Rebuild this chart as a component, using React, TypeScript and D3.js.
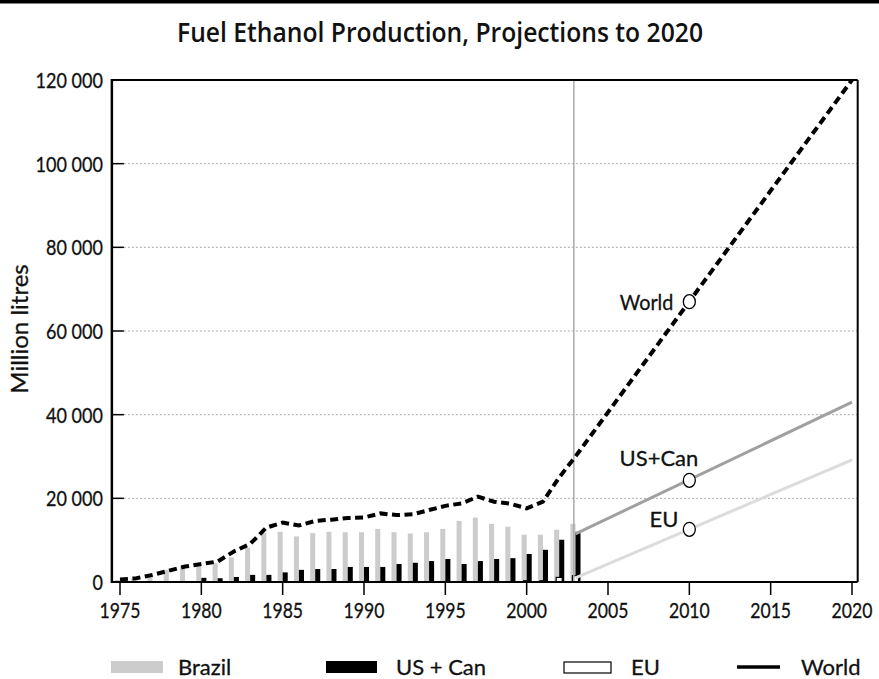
import React from "react";
import * as d3 from "d3";

const years = d3.range(1975, 2004);
const brazil = [500, 900, 1800, 2900, 3700, 4200, 4500, 5900, 8200, 11700, 12000, 10900, 11700, 12000, 11900, 11900, 12700, 11900, 11600, 11900, 12700, 14600, 15400, 13900, 13200, 11300, 11300, 12500, 13900];
const usCan = [100, 100, 100, 100, 200, 1000, 900, 1200, 1700, 1700, 2300, 2900, 3100, 3100, 3600, 3600, 3600, 4300, 4600, 5000, 5500, 4300, 5000, 5500, 5700, 6700, 7700, 10100, 12000];
const eu = [0, 0, 0, 0, 0, 0, 0, 0, 0, 0, 0, 0, 0, 0, 0, 0, 0, 0, 0, 0, 0, 0, 0, 0, 0, 300, 300, 1100, 1500];
const world = [600, 900, 1700, 2700, 3700, 4300, 4900, 7300, 9100, 13000, 14200, 13500, 14600, 14900, 15300, 15400, 16400, 16000, 16200, 17200, 18200, 18800, 20400, 19200, 18700, 17600, 19200, 25000, 30000];

const projYears = [2003, 2020];
const worldProj = [30000, 120000];
const usProj = [11500, 43000];
const euProj = [1000, 29200];

const markerYear = 2010;
const markerLabels = ["World", "US+Can", "EU"];
const markerValues = [67000, 24300, 12600];

const xTicks = d3.range(1975, 2021, 5);
const yTicks = d3.range(0, 120001, 20000);
const legendLabels = ["Brazil", "US + Can", "EU", "World"];

const FONT = "Lato, 'Open Sans', sans-serif";

function T({ x, y, sx = 1, anchor = "start", size = 22, children, rotate = 0 }: any) {
  return (
    <text
      transform={`translate(${x},${y}) rotate(${rotate}) scale(${sx},1)`}
      textAnchor={anchor}
      fontSize={size}
      fill="#111"
      stroke="#111"
      strokeWidth={0.3}
    >
      {children}
    </text>
  );
}

export default function App() {
  const W = 879, H = 679;
  const x = d3.scaleLinear().domain([1975, 2020]).range([120, 852]);
  const y = d3.scaleLinear().domain([0, 120000]).range([582, 80]);
  const left = x(1974.5), right = x(2020.35), top = y(120000), bottom = y(0);
  const bw = (x(1976) - x(1975)) * 0.31;
  const fmt = (v: number) => d3.format(",")(v).replace(/,/g, " ");

  const hist = years.map((yr, i) => ({ yr, v: world[i] }));
  const worldLine = d3.line<{ yr: number; v: number }>().x(d => x(d.yr)).y(d => y(d.v));
  const worldAll = hist.concat([{ yr: projYears[1], v: worldProj[1] }]);
  const projLine = (vals: number[]) => d3.line<number>().x((_, i) => x(projYears[i])).y(d => y(d))(vals) || "";

  const labelEndDx = [-16, 9, -11];
  const labelDy = [8, -14, -2];
  const labelSx = [0.9, 1, 1];

  return (
    <svg width={W} height={H} style={{ display: "block", position: "absolute", left: 0, top: 0 }} fontFamily={FONT}>
      <rect x={0} y={0} width={W} height={H} fill="#fff" />
      <rect x={0} y={0} width={W} height={3.5} fill="#000" />
      <text x={440} y={42} textAnchor="middle" fontSize={27} fontWeight={600} fontFamily="'Open Sans', 'Noto Sans', sans-serif" textLength={526} lengthAdjust="spacingAndGlyphs" fill="#111">
        Fuel Ethanol Production, Projections to 2020
      </text>

      {/* gridlines */}
      {yTicks.filter(t => t > 0 && t < 120000).map(t => (
        <line key={"g" + t} x1={left + 12} x2={right} y1={y(t)} y2={y(t)} stroke="#aaa" strokeWidth={1} strokeDasharray="2,2" />
      ))}

      {/* bars */}
      {years.map((yr, i) => (
        <g key={"b" + yr}>
          <rect x={x(yr) - bw} y={y(brazil[i])} width={bw} height={bottom - y(brazil[i])} fill="#cccccc" />
          <rect x={x(yr)} y={y(usCan[i])} width={bw} height={bottom - y(usCan[i])} fill="#000" />
          {eu[i] > 0 && (
            <rect x={x(yr) - bw / 2 - 0.5} y={y(eu[i])} width={bw + 1} height={bottom - y(eu[i])} fill="#fff" stroke="#000" strokeWidth={1.2} />
          )}
        </g>
      ))}

      {/* vertical line at 2003 */}
      <line x1={x(2002.9)} x2={x(2002.9)} y1={top} y2={bottom} stroke="#aaa" strokeWidth={1.5} />

      {/* projections */}
      <path d={projLine(euProj)} fill="none" stroke="#dcdcdc" strokeWidth={3} />
      <path d={projLine(usProj)} fill="none" stroke="#a0a0a0" strokeWidth={3} />
      <path d={worldLine(worldAll) || ""} fill="none" stroke="#000" strokeWidth={4} strokeDasharray="8,4.5" />

      {/* markers */}
      {markerValues.map((v, i) => (
        <g key={"m" + i}>
          <ellipse cx={x(markerYear)} cy={y(v)} rx={6} ry={7} fill="#fff" stroke="#000" strokeWidth={1.3} />
          <T x={x(markerYear) + labelEndDx[i]} y={y(v) + labelDy[i]} anchor="end" sx={labelSx[i]}>
            {markerLabels[i]}
          </T>
        </g>
      ))}

      {/* frame */}
      <line x1={left} x2={right} y1={top} y2={top} stroke="#000" strokeWidth={2} />
      <line x1={right} x2={right} y1={top} y2={bottom} stroke="#000" strokeWidth={2} />
      <line x1={left} x2={right} y1={bottom} y2={bottom} stroke="#000" strokeWidth={2} />
      <line x1={left} x2={left} y1={top - 1} y2={bottom + 1} stroke="#000" strokeWidth={2.5} />

      {/* y ticks */}
      {yTicks.map(t => (
        <g key={"y" + t}>
          {t > 0 && t < 120000 && <line x1={left} x2={left + 12} y1={y(t)} y2={y(t)} stroke="#000" strokeWidth={1.5} />}
          <T x={103} y={y(t) + 8} anchor="end" sx={0.82}>{fmt(t)}</T>
        </g>
      ))}

      {/* x ticks */}
      {xTicks.map(t => (
        <g key={"x" + t}>
          <line x1={x(t)} x2={x(t)} y1={bottom} y2={bottom + 13} stroke="#000" strokeWidth={1.5} />
          <T x={x(t)} y={618} anchor="middle" sx={0.8}>{t}</T>
        </g>
      ))}

      <T x={28} y={329} anchor="middle" rotate={-90} size={24}>Million litres</T>

      {/* legend */}
      <rect x={111} y={661} width={52} height={12} fill="#cccccc" />
      <T x={178} y={675}>{legendLabels[0]}</T>
      <rect x={326} y={661} width={51} height={12} fill="#000" />
      <T x={396} y={675}>{legendLabels[1]}</T>
      <rect x={564} y={662} width={47} height={11} fill="#fff" stroke="#000" strokeWidth={1.2} />
      <T x={631} y={675}>{legendLabels[2]}</T>
      <line x1={737} x2={780} y1={667} y2={667} stroke="#000" strokeWidth={3.5} />
      <T x={801} y={675}>{legendLabels[3]}</T>
    </svg>
  );
}
